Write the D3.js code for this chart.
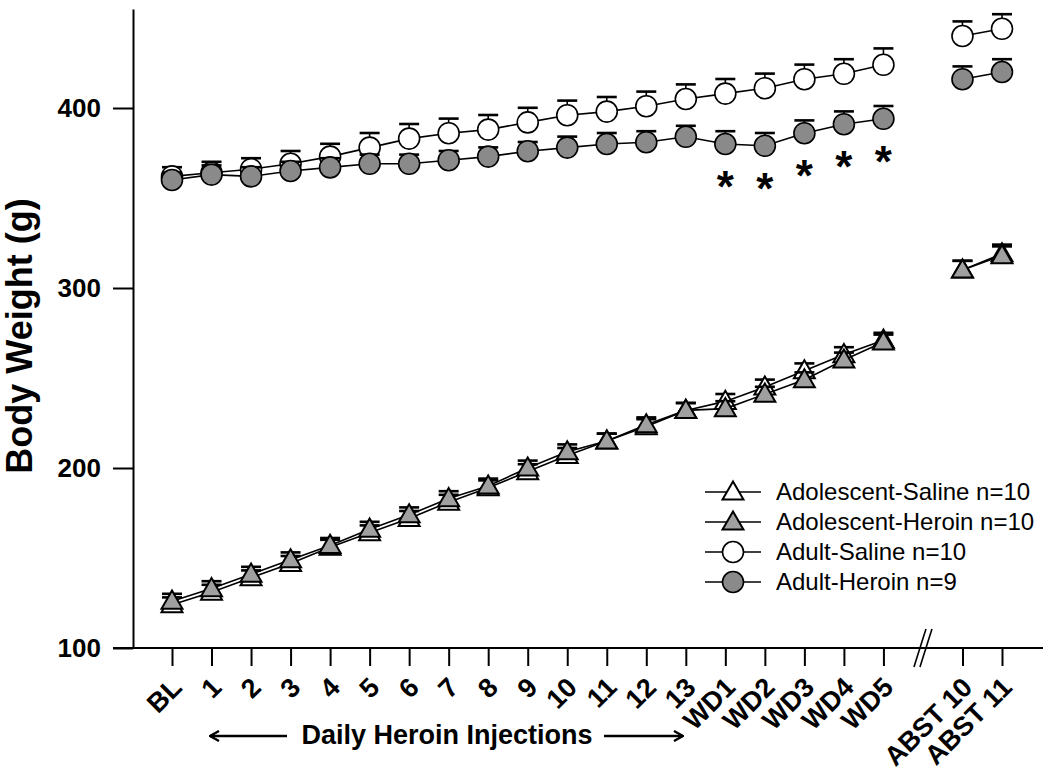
<!DOCTYPE html>
<html>
<head>
<meta charset="utf-8">
<script src="https://cdn.jsdelivr.net/npm/d3@7"></script>
<style>
body{margin:0;background:#fff;}
svg{display:block;font-family:"Liberation Sans",Arial,sans-serif;}
.axis path,.axis line{stroke:#000;stroke-width:2;}
</style>
</head>
<body>
<svg id="chart" width="1050" height="771"></svg>
<script>
// ---- data ----
var categories = ["BL","1","2","3","4","5","6","7","8","9","10","11","12","13",
	"WD1","WD2","WD3","WD4","WD5","ABST 10","ABST 11"];
var adolSaline    = [124,131,139,147,156,164,172,181,189,198,207,215,223,232,237,245,254,263,271,310,319];
var adolSalineErr = [3,3,3,3,3,3,3,3,3,3,3,3,3,3,3,3,3,3,3,4,4];
var adolHeroin    = [126,133,141,149,157,166,174,183,190,200,209,215,224,232,233,241,249,260,270,310,318];
var adolHeroinErr = [3,3,3,3,3,3,3,3,3,3,3,3,3,3,3,3,3,3,3,4,4];
var adultSaline    = [362,364,366,369,373,378,383,386,388,392,396,398,401,405,408,411,416,419,424,440,444];
var adultSalineErr = [4,5,5,6,6,7,7,7,7,7,7,7,7,7,7,7,7,7,8,7,7];
var adultHeroin    = [360,363,362,365,367,369,369,371,373,376,378,380,381,384,380,379,386,391,394,416,420];
var adultHeroinErr = [3,4,4,4,4,4,4,4,4,4,5,5,5,5,6,6,6,6,6,6,6];
var signifIdx = [14,15,16,17,18];   // asterisks: WD1..WD5
var yTicks = [100,200,300,400];

var series = [
	{name:"Adolescent-Saline n=10", vals:adolSaline,  err:adolSalineErr,  shape:"tri", fill:"#fff"},
	{name:"Adolescent-Heroin n=10", vals:adolHeroin,  err:adolHeroinErr,  shape:"tri", fill:"#a0a0a0"},
	{name:"Adult-Saline n=10",      vals:adultSaline, err:adultSalineErr, shape:"circ", fill:"#fff"},
	{name:"Adult-Heroin n=9",       vals:adultHeroin, err:adultHeroinErr, shape:"circ", fill:"#8a8a8a"}
];

// slot index on the axis: a gap is left after WD5 for the break
function slot(i){ return i < 19 ? i : i + 1; }

var svg = d3.select("#chart");
var x = d3.scaleLinear().domain([0, 21]).range([172, 1002]);
var y = d3.scaleLinear().domain([100, 455]).range([648, 9]);

// y axis
var yAxis = svg.append("g").attr("class","axis").attr("transform","translate(133,0)")
	.call(d3.axisLeft(y).tickValues(yTicks).tickSize(20).tickSizeOuter(0).tickPadding(12));
yAxis.selectAll("text").attr("font-size",26).attr("font-weight","bold").attr("fill","#000")
	.attr("font-family","Liberation Sans, Arial, sans-serif");

// x axis
svg.append("line").attr("x1",113).attr("x2",1043).attr("y1",648).attr("y2",648)
	.attr("stroke","#000").attr("stroke-width",2);
var xAxis = svg.append("g").attr("class","axis").attr("transform","translate(0,648)")
	.call(d3.axisBottom(x).tickValues(categories.map(function(c,i){ return slot(i); }))
		.tickSize(18).tickFormat(function(d){ return categories[d < 19 ? d : d - 1]; }));
xAxis.select(".domain").remove();
xAxis.selectAll("text")
	.attr("font-size",27).attr("font-weight","bold").attr("fill","#000")
	.attr("font-family","Liberation Sans, Arial, sans-serif")
	.attr("text-anchor","end").attr("dy",null).attr("y",0)
	.attr("transform","translate(11,41) rotate(-45)");

// axis break marks
var bx = x(19);
[-3, 3].forEach(function(o){
	svg.append("line").attr("x1",bx - 6 + o).attr("y1",667).attr("x2",bx + 6 + o).attr("y2",629)
		.attr("stroke","#000").attr("stroke-width",1.6);
});

// axis titles
svg.append("text").attr("transform","translate(32,336) rotate(-90)")
	.attr("text-anchor","middle").attr("font-size",36).attr("font-weight","bold")
	.text("Body Weight (g)");
svg.append("text").attr("x",447).attr("y",744).attr("text-anchor","middle")
	.attr("font-size",27).attr("font-weight","bold").text("Daily Heroin Injections");

var defs = svg.append("defs");
defs.append("marker").attr("id","arrowhead").attr("viewBox","0 0 12 12").attr("refX",11).attr("refY",6)
	.attr("markerWidth",12).attr("markerHeight",12).attr("markerUnits","userSpaceOnUse").attr("orient","auto")
	.append("path").attr("d","M2,1 L11,6 L2,11").attr("fill","none").attr("stroke","#000").attr("stroke-width",2.4);
svg.append("line").attr("x1",287).attr("x2",210).attr("y1",736).attr("y2",736)
	.attr("stroke","#000").attr("stroke-width",2.4).attr("marker-end","url(#arrowhead)");
svg.append("line").attr("x1",604).attr("x2",683).attr("y1",736).attr("y2",736)
	.attr("stroke","#000").attr("stroke-width",2.4).attr("marker-end","url(#arrowhead)");

// markers
var triPath = d3.symbol().type(d3.symbolTriangle).size(190);
function drawMarker(g, shape, fill){
	if(shape === "tri"){
		g.append("path").attr("d", triPath()).attr("transform","translate(0,1.5)")
			.attr("fill", fill).attr("stroke","#000").attr("stroke-width",2);
	}else{
		g.append("circle").attr("r",10.5).attr("fill", fill).attr("stroke","#000").attr("stroke-width",1.6);
	}
}

var line = d3.line().x(function(d){ return x(slot(d.i)); }).y(function(d){ return y(d.v); });

var plot = svg.append("g");
series.forEach(function(s){
	var pts = s.vals.map(function(v, i){ return {i:i, v:v, e:s.err[i]}; });
	var g = plot.append("g");
	// error bars (upper only)
	var eb = g.selectAll(".err").data(pts).enter().append("g").attr("class","err");
	eb.append("line").attr("x1",function(d){ return x(slot(d.i)); }).attr("x2",function(d){ return x(slot(d.i)); })
		.attr("y1",function(d){ return y(d.v); }).attr("y2",function(d){ return y(d.v + d.e) - 2; })
		.attr("stroke","#000").attr("stroke-width",1.6);
	eb.append("line").attr("x1",function(d){ return x(slot(d.i)) - 10; }).attr("x2",function(d){ return x(slot(d.i)) + 10; })
		.attr("y1",function(d){ return y(d.v + d.e) - 2; }).attr("y2",function(d){ return y(d.v + d.e) - 2; })
		.attr("stroke","#000").attr("stroke-width",2.6);
	// lines: treatment days, then abstinence
	[pts.slice(0,19), pts.slice(19)].forEach(function(seg){
		g.append("path").datum(seg).attr("d", line).attr("fill","none").attr("stroke","#000").attr("stroke-width",1.6);
	});
	g.selectAll(".pt").data(pts).enter().append("g").attr("class","pt")
		.attr("transform",function(d){ return "translate(" + x(slot(d.i)) + "," + y(d.v) + ")"; })
		.each(function(){ drawMarker(d3.select(this), s.shape, s.fill); });
});

// significance asterisks below adult-heroin
svg.selectAll(".star").data(signifIdx).enter().append("text").attr("class","star")
	.attr("x",function(i){ return x(slot(i)); })
	.attr("y",function(i){ return y(adultHeroin[i]) + 58; })
	.attr("text-anchor","middle").attr("font-size",44).attr("font-weight","bold").text("*");

// legend
var lg = svg.append("g").attr("transform","translate(705,492)");
series.forEach(function(s, k){
	var row = lg.append("g").attr("transform","translate(0," + (k * 30) + ")");
	row.append("line").attr("x1",0).attr("x2",56).attr("stroke","#000").attr("stroke-width",1.6);
	var m = row.append("g").attr("transform","translate(28,0)");
	drawMarker(m, s.shape, s.fill);
	row.append("text").attr("x",71).attr("y",8).attr("font-size",24).text(s.name);
});
</script>
</body>
</html>
